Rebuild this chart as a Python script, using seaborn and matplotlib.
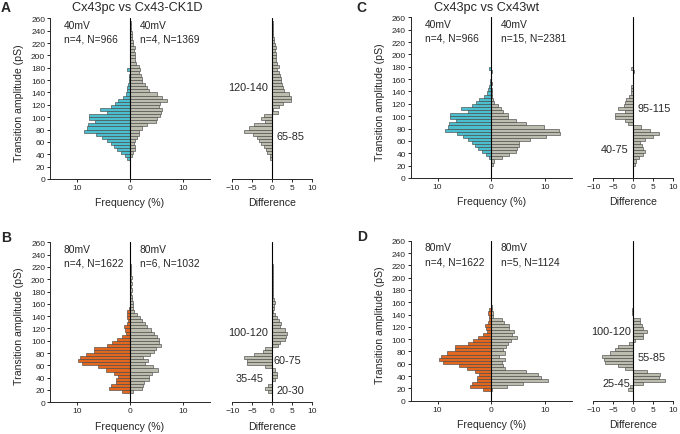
import numpy as np
import pandas as pd
import matplotlib
matplotlib.use('Agg')
import matplotlib.pyplot as plt
import seaborn as sns

# amplitude histograms, 5 pS bins from 10 to 260 pS, values in % of events
bin_edges = list(range(10, 265, 5))
bin_mid = np.array(bin_edges[:-1]) + 2.5

pc40 = [0, 0, 0, 0, 0.5, 0.9, 1.7, 2.4, 3.0, 3.6,
        4.4, 5.2, 6.4, 8.6, 8.0, 7.8, 6.6, 7.7, 7.7, 4.4,
        5.7, 3.6, 2.8, 2.2, 1.4, 0.8, 0.6, 0.5, 0.3, 0.2,
        0.1, 0.1, 0, 0.5, 0, 0, 0, 0, 0, 0,
        0, 0, 0, 0, 0, 0, 0, 0, 0, 0]
ck40 = [0, 0, 0, 0, 0, 0.3, 0.5, 0.9, 1.0, 0.8,
        1.0, 1.4, 1.6, 1.6, 2.2, 3.2, 4.8, 5.0, 5.6, 5.8,
        6.0, 5.4, 5.6, 7.0, 6.0, 5.0, 3.6, 3.2, 2.8, 2.3,
        2.3, 2.0, 1.6, 1.8, 1.6, 1.2, 1.0, 0.9, 0.9, 0.7,
        1.0, 0.6, 0.5, 0.4, 0.3, 0.3, 0.2, 0.2, 0.1, 0]
wt40 = [0, 0, 0.3, 0.6, 2.0, 3.4, 4.6, 4.9, 5.2, 5.2,
        7.2, 10.2, 12.8, 12.7, 9.9, 6.5, 4.6, 3.1, 3.1, 2.2,
        1.9, 1.2, 0.6, 0.3, 0.2, 0.2, 0.1, 0, 0.1, 0,
        0, 0, 0.1, 0, 0, 0, 0, 0, 0, 0,
        0, 0, 0, 0, 0, 0, 0, 0, 0, 0]
pc80 = [0, 1.5, 3.9, 3.5, 2.6, 2.7, 2.2, 3.0, 4.5, 6.0,
        9.0, 9.8, 9.4, 8.3, 6.7, 6.7, 4.4, 3.4, 2.4, 1.5,
        0.8, 0.9, 1.2, 0.6, 0.4, 0.5, 0.6, 0.5, 0.1, 0,
        0, 0, 0, 0, 0, 0, 0, 0, 0, 0,
        0, 0, 0, 0, 0, 0, 0, 0, 0, 0]
ck80 = [0, 0.5, 2.2, 2.4, 2.6, 3.5, 3.5, 4.2, 5.2, 4.3,
        2.8, 3.4, 2.4, 3.8, 4.5, 4.9, 5.9, 5.4, 5.5, 5.0,
        4.5, 4.0, 3.2, 2.9, 2.2, 1.8, 1.3, 0.8, 0.5, 0.5,
        0.6, 0.4, 0.3, 0.2, 0.3, 0.2, 0.3, 0.2, 0.3, 0.2,
        0.1, 0.1, 0.1, 0, 0, 0, 0, 0, 0, 0]
wt80 = [0, 0.2, 3.0, 5.9, 10.5, 9.2, 8.8, 6.4, 2.5, 2.2,
        2.0, 2.5, 1.5, 2.5, 2.2, 2.8, 3.2, 3.7, 4.8, 3.8,
        4.3, 3.4, 3.4, 2.3, 2.1, 0.4, 0.3, 0.2, 0.1, 0,
        0, 0, 0, 0, 0, 0, 0, 0, 0, 0,
        0, 0, 0, 0, 0, 0, 0, 0, 0, 0]

CYAN = '#4bbfcf'
ORANGE = '#e4671f'
GREY = '#bcbcaf'
EDGE = '#4a4a4a'

sns.set_style('ticks')
plt.rcParams['font.family'] = ['Liberation Sans', 'DejaVu Sans']
plt.rcParams['axes.linewidth'] = 0.7
plt.rcParams['xtick.major.width'] = 0.7
plt.rcParams['ytick.major.width'] = 0.7

W, H = 680, 435
fig = plt.figure(figsize=(6.8, 4.35), dpi=100)


def rect(l, t, r, b):
    # pixel box -> figure fraction
    return [l / W, (H - b) / H, (r - l) / W, (b - t) / H]


def hbars(ax, vals, color, sign=1):
    d = pd.DataFrame({'amp': bin_mid, 'pct': sign * np.asarray(vals, float)})
    sns.histplot(data=d, y='amp', weights='pct', bins=bin_edges,
                 color=color, edgecolor=EDGE, linewidth=0.45, alpha=1, ax=ax)


def main_panel(box, left, right, lcolor, ltxt, rtxt):
    ax = fig.add_axes(rect(*box))
    hbars(ax, left, lcolor, -1)
    hbars(ax, right, GREY, 1)
    ax.axvline(0, color='black', lw=0.8)
    ax.set_xlim(-15, 15)
    ax.set_ylim(0, 260)
    ax.set_xticks([-10, 0, 10])
    ax.set_xticklabels(['10', '0', '10'])
    ax.set_yticks(range(0, 261, 20))
    ax.tick_params(labelsize=6, length=2, pad=1.5)
    ax.set_xlabel('Frequency (%)', fontsize=7.6)
    ax.set_ylabel('Transition amplitude (pS)', fontsize=7.6)
    ax.xaxis.set_label_coords(0.5, -0.115)
    ax.yaxis.set_label_coords(-0.16, 0.48)
    for x, (l1, l2) in [(-12.4, ltxt), (1.8, rtxt)]:
        ax.text(x, 249, l1, fontsize=7.4, va='center')
        ax.text(x, 227, l2, fontsize=7.4, va='center')
    sns.despine(ax=ax)
    return ax


def diff_panel(box, left, right, labels):
    ax = fig.add_axes(rect(*box))
    hbars(ax, np.array(right) - np.array(left), GREY, 1)
    ax.axvline(0, color='black', lw=0.8)
    ax.set_xlim(-10, 10)
    ax.set_ylim(0, 260)
    ax.set_xticks([-10, -5, 0, 5, 10])
    ax.set_yticks([])
    ax.tick_params(labelsize=6, length=2, pad=1.5)
    ax.set_xlabel('Difference', fontsize=7.6)
    ax.set_ylabel('')
    ax.xaxis.set_label_coords(0.5, -0.115)
    for x, y, s in labels:
        ax.text(x, y, s, fontsize=7.8, va='center',
                ha='right' if x < 0 else 'left')
    sns.despine(ax=ax, left=True)
    return ax


# top row, 40 mV
main_panel((50, 19.3, 210, 180), pc40, ck40, CYAN,
           ('40mV', 'n=4, N=966'), ('40mV', 'n=4, N=1369'))
diff_panel((232.3, 19.3, 312.3, 180), pc40, ck40,
           [(-1.0, 149, '120-140'), (1.1, 69, '65-85')])
main_panel((410.7, 18.3, 571.7, 179), pc40, wt40, CYAN,
           ('40mV', 'n=4, N=966'), ('40mV', 'n=15, N=2381'))
diff_panel((593.3, 18.3, 673.3, 179), pc40, wt40,
           [(1.0, 114, '95-115'), (-1.2, 47, '40-75')])

# bottom row, 80 mV
main_panel((50, 243.3, 210, 403.3), pc80, ck80, ORANGE,
           ('80mV', 'n=4, N=1622'), ('80mV', 'n=6, N=1032'))
diff_panel((232.3, 243.3, 312.3, 403.3), pc80, ck80,
           [(-1.0, 114, '100-120'), (0.4, 69, '60-75'),
            (-2.2, 39.5, '35-45'), (1.1, 20.5, '20-30')])
main_panel((410.7, 241.7, 571.7, 401.7), pc80, wt80, ORANGE,
           ('80mV', 'n=4, N=1622'), ('80mV', 'n=5, N=1124'))
diff_panel((593.3, 241.7, 673.3, 401.7), pc80, wt80,
           [(-0.6, 113, '100-120'), (1.0, 71.5, '55-85'),
            (-0.8, 28, '25-45')])

fig.text(137.5 / W, 1 - 8 / H, 'Cx43pc vs Cx43-CK1D', fontsize=9.2,
         ha='center', va='center')
fig.text(486.7 / W, 1 - 8 / H, 'Cx43pc vs Cx43wt', fontsize=9.2,
         ha='center', va='center')
for s, x, y in [('A', 6, 8), ('C', 361, 8), ('B', 6, 238), ('D', 362, 237)]:
    fig.text(x / W, 1 - y / H, s, fontsize=10, fontweight='bold',
             ha='center', va='center')

fig.savefig('out.png', dpi=100)
